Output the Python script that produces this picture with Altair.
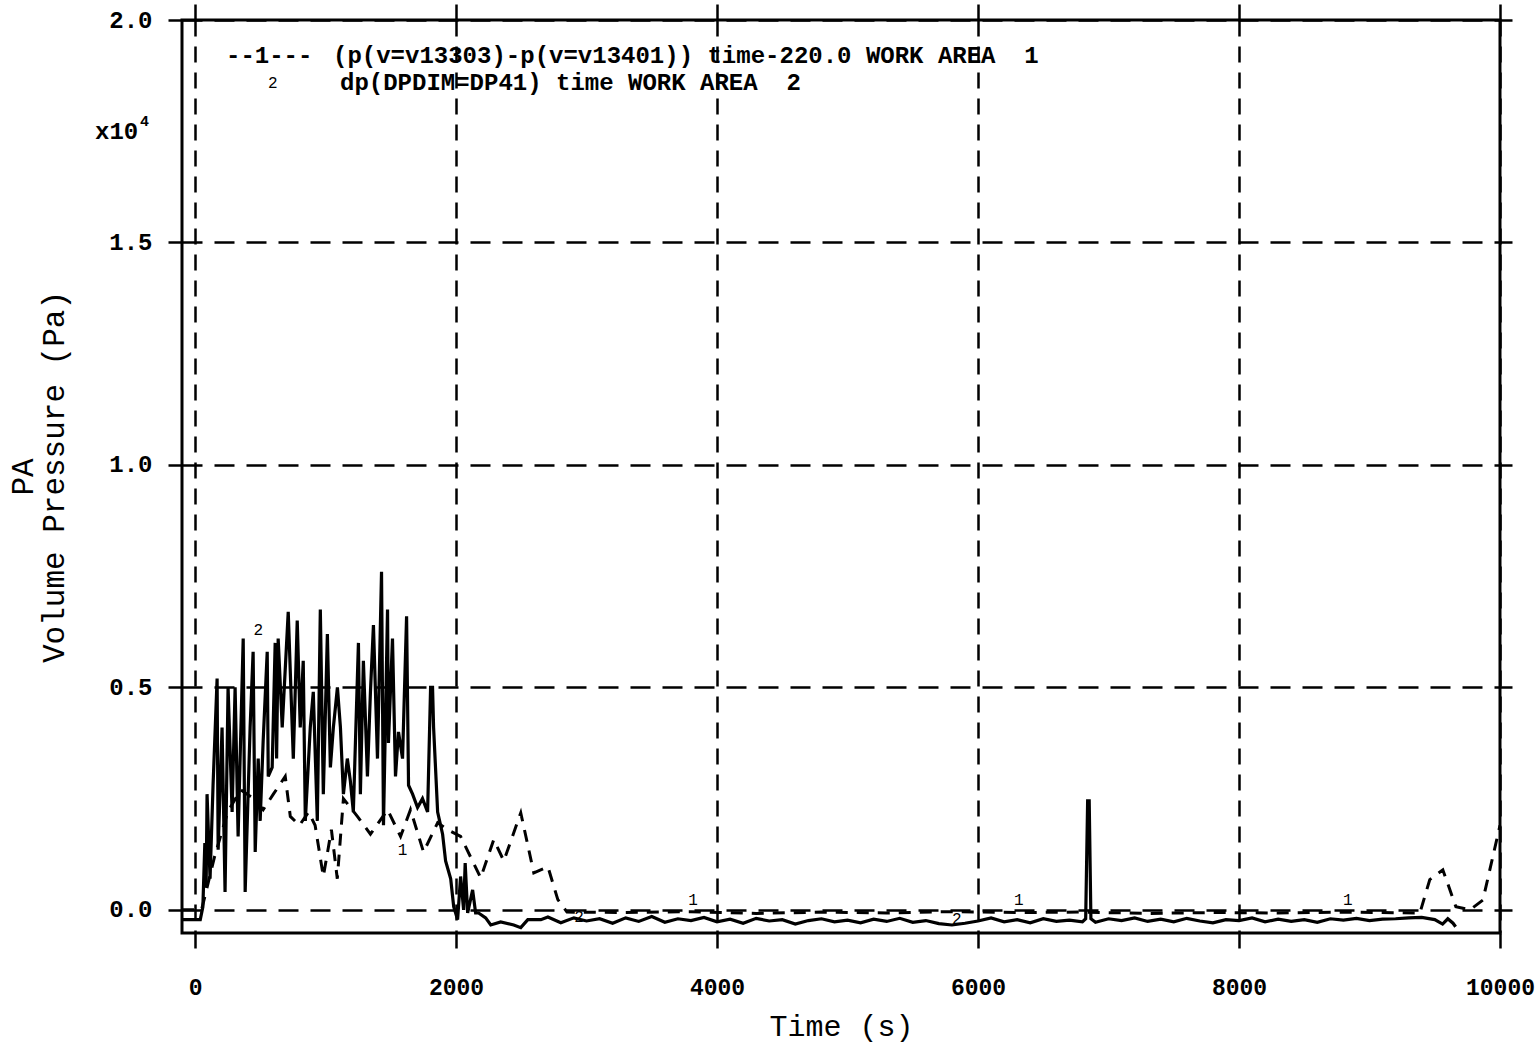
import altair as alt
import pandas as pd

# ---------------- data ----------------
# Series 2 (solid): dp(DPDIM=DP41) time WORK AREA 2   (values in units of 1e4 Pa)
s2_t = [-100, 40, 60, 75, 85, 92, 115, 138, 169, 177, 207, 230, 253, 284, 307, 330,
        369, 384, 422, 445, 461, 484, 499, 522, 553, 561, 591, 614, 625, 637, 668,
        714, 753, 783, 806, 829, 845, 883, 906, 937, 960, 983, 1014, 1037, 1060,
        1091, 1114, 1137, 1167, 1190, 1213, 1252, 1267, 1290, 1321, 1344, 1367,
        1398, 1429, 1444, 1475, 1482, 1513, 1536, 1559, 1590, 1621, 1636, 1667,
        1705, 1743, 1782, 1805, 1820, 1828, 1859, 1897, 1920, 1959, 1982, 2012,
        2035, 2058, 2070, 2089, 2127, 2150, 2173, 2227, 2266, 2342, 2442, 2496,
        2550, 2650, 2704, 2803, 2903,
        3000, 3100, 3200, 3300, 3400, 3500, 3600, 3700, 3800, 3900, 4000, 4100,
        4200, 4300, 4400, 4500, 4600, 4700, 4800, 4900, 5000, 5100, 5200, 5300,
        5400, 5500, 5600, 5700, 5800, 5900, 6000, 6100, 6200, 6300, 6400, 6500,
        6600, 6700, 6800, 6825, 6840, 6852, 6865, 6900, 7000, 7100, 7200, 7300,
        7400, 7500, 7600, 7700, 7800, 7900, 8000, 8100, 8200, 8300, 8400, 8500,
        8600, 8700, 8800, 8900, 9000, 9100, 9200, 9300, 9400, 9500, 9560, 9600,
        9640, 9660]
s2_v = [-0.022, -0.022, 0.007, 0.15, 0.05, 0.26, 0.07, 0.28, 0.52, 0.135, 0.41,
        0.04, 0.50, 0.22, 0.50, 0.165, 0.61, 0.04, 0.41, 0.58, 0.13, 0.34, 0.20,
        0.38, 0.58, 0.30, 0.32, 0.60, 0.34, 0.61, 0.41, 0.67, 0.34, 0.65, 0.41,
        0.56, 0.20, 0.41, 0.49, 0.20, 0.675, 0.26, 0.62, 0.32, 0.41, 0.50, 0.41,
        0.26, 0.34, 0.29, 0.22, 0.60, 0.26, 0.56, 0.30, 0.49, 0.64, 0.34, 0.76,
        0.19, 0.675, 0.375, 0.61, 0.30, 0.40, 0.34, 0.66, 0.28, 0.26, 0.23, 0.25,
        0.22, 0.50, 0.50, 0.41, 0.22, 0.17, 0.11, 0.07, 0.007, -0.022, 0.075, 0.0,
        0.105, -0.007, 0.045, -0.007, -0.007, -0.018, -0.034, -0.027, -0.034,
        -0.04, -0.022, -0.022, -0.016, -0.029, -0.018,
        -0.025, -0.020, -0.030, -0.018, -0.026, -0.015, -0.028, -0.020, -0.024,
        -0.017, -0.027, -0.021, -0.030, -0.019, -0.025, -0.022, -0.032, -0.024,
        -0.020, -0.027, -0.023, -0.029, -0.021, -0.026, -0.019, -0.028, -0.024,
        -0.031, -0.034, -0.030, -0.025, -0.018, -0.027, -0.022, -0.029, -0.020,
        -0.026, -0.023, -0.027, -0.020, 0.245, 0.245, -0.020, -0.028, -0.020,
        -0.024, -0.018, -0.026, -0.021, -0.027, -0.019, -0.025, -0.029, -0.022,
        -0.024, -0.018, -0.027, -0.021, -0.026, -0.022, -0.028, -0.020, -0.023,
        -0.019, -0.024, -0.021, -0.020, -0.018, -0.017, -0.022, -0.032, -0.020,
        -0.030, -0.038]

# Series 1 (dashed): (p(v=v13303)-p(v=v13401)) time-220.0 WORK AREA 1
s1_t = [-100, 50, 150, 250, 350, 450, 522, 600, 691, 730, 800, 870, 920, 983,
        1045, 1090, 1137, 1244, 1344, 1475, 1575, 1651, 1751, 1859, 1935, 2035,
        2189, 2289, 2366, 2496, 2596, 2704, 2780, 2850, 3300, 3800, 4300, 4800,
        5300, 5800, 6300, 6800, 7300, 7800, 8300, 8800, 9386, 9462, 9562, 9662,
        9770, 9869, 10000]
s1_v = [0.0, 0.0, 0.12, 0.22, 0.27, 0.25, 0.225, 0.26, 0.30, 0.21, 0.19, 0.22,
        0.19, 0.075, 0.18, 0.07, 0.25, 0.21, 0.17, 0.225, 0.165, 0.225, 0.13,
        0.196, 0.18, 0.165, 0.072, 0.158, 0.11, 0.218, 0.083, 0.097, 0.023,
        -0.005, -0.006, -0.004, -0.008, -0.005, -0.007, -0.004, -0.006, -0.005,
        -0.008, -0.006, -0.007, -0.005, -0.007, 0.068, 0.09, 0.007, 0.0, 0.022,
        0.19]

# Curve identification digits printed along the lines
lab_t = [484, 1590, 2942, 3817, 5837, 6313, 8833]
lab_v = [0.61, 0.117, -0.034, 0.005, -0.038, 0.005, 0.005]
lab_s = ["2", "1", "2", "1", "2", "1", "1"]

x_ticks = [0, 2000, 4000, 6000, 8000, 10000]
y_ticks = [0.0, 0.5, 1.0, 1.5, 2.0]
x_domain = [-100, 10000]
y_domain = [-0.052, 2.0]

legend_line1 = "(p(v=v13303)-p(v=v13401)) time-220.0 WORK AREA\u00a0\u00a01"
legend_line2 = "dp(DPDIM=DP41) time WORK AREA\u00a0\u00a02"

FONT = "Liberation Mono"

s1 = pd.DataFrame({"t": s1_t, "v": s1_v})
s2 = pd.DataFrame({"t": s2_t, "v": s2_v})
labs = pd.DataFrame({"t": lab_t, "v": lab_v, "s": lab_s})

xs = alt.Scale(domain=x_domain, nice=False, zero=False)
ys = alt.Scale(domain=y_domain, nice=False, zero=False)

main_x_axis = alt.Axis(values=x_ticks, format="d", grid=True, gridDash=[16, 10],
                       gridColor="black", gridWidth=2.5, gridOpacity=1,
                       domain=False, ticks=True, tickSize=15, tickWidth=2.5,
                       tickColor="black", labelFont=FONT, labelFontSize=23,
                       labelFontWeight="bold", labelColor="black", labelPadding=28,
                       labelFlush=False,
                       title="Time (s)", titleFont=FONT, titleFontSize=30,
                       titleFontWeight="normal", titleColor="black", titlePadding=12)
main_y_axis = alt.Axis(values=y_ticks, format=".1f", grid=True, gridDash=[20, 12],
                       gridColor="black", gridWidth=2.5, gridOpacity=1,
                       domain=False, ticks=True, tickSize=14, tickWidth=2.5,
                       tickColor="black", labelFont=FONT, labelFontSize=24,
                       labelFontWeight="bold", labelColor="black", labelPadding=16,
                       labelFlush=False,
                       title=["PA", "Volume Pressure (Pa)"], titleFont=FONT,
                       titleFontSize=31, titleFontWeight="normal", titleColor="black",
                       titleLineHeight=31, titlePadding=38)

base_grid = alt.Chart(s2).mark_point(opacity=0).encode(
    x=alt.X("t:Q", scale=xs, axis=main_x_axis),
    y=alt.Y("v:Q", scale=ys, axis=main_y_axis),
)

side_ticks = alt.Chart(s2).mark_point(opacity=0).encode(
    x=alt.X("t:Q", scale=xs, axis=alt.Axis(orient="top", values=x_ticks, labels=False,
                                           grid=False, domain=False, tickSize=16,
                                           tickWidth=2.5, tickColor="black", title=None)),
    y=alt.Y("v:Q", scale=ys, axis=alt.Axis(orient="right", values=y_ticks, labels=False,
                                           grid=False, domain=False, tickSize=12,
                                           tickWidth=2.5, tickColor="black", title=None)),
)

line1 = alt.Chart(s1).mark_line(color="black", strokeWidth=3, strokeDash=[12, 9]).encode(
    x=alt.X("t:Q", scale=xs, axis=None),
    y=alt.Y("v:Q", scale=ys, axis=None),
)
line2 = alt.Chart(s2).mark_line(color="black", strokeWidth=3.2).encode(
    x=alt.X("t:Q", scale=xs, axis=None),
    y=alt.Y("v:Q", scale=ys, axis=None),
)
curve_labels = alt.Chart(labs).mark_text(font=FONT, fontSize=16, color="black",
                                         dy=-8).encode(
    x=alt.X("t:Q", scale=xs, axis=None),
    y=alt.Y("v:Q", scale=ys, axis=None),
    text="s:N",
)

one = pd.DataFrame({"a": [0]})

def note(txt, px, py, size, align="left", weight="normal", baseline="middle"):
    return alt.Chart(one).mark_text(font=FONT, fontSize=size, color="black",
                                    align=align, baseline=baseline,
                                    fontWeight=weight).encode(
        x=alt.value(px), y=alt.value(py), text=alt.value(txt))

notes = [
    note("x10", -87, 112, 24, weight="bold"),
    note("4", -42, 101, 15, weight="bold"),
    note("--1---", 44, 36, 24, weight="bold"),
    note(legend_line1, 151, 36, 24, weight="bold"),
    note("2", 86, 63, 16),
    note(legend_line2, 158, 63, 24, weight="bold"),
]

chart = alt.layer(base_grid, side_ticks, line1, line2, curve_labels, *notes).resolve_axis(
    x="independent", y="independent"
).properties(
    width=1318, height=913,
    autosize=alt.AutoSizeParams(type="none"),
    padding={"left": 182, "top": 20, "right": 38, "bottom": 112},
    background="white",
).configure_view(stroke="black", strokeWidth=3)

chart.save("out.html", embed_options={"renderer": "svg", "actions": False})
